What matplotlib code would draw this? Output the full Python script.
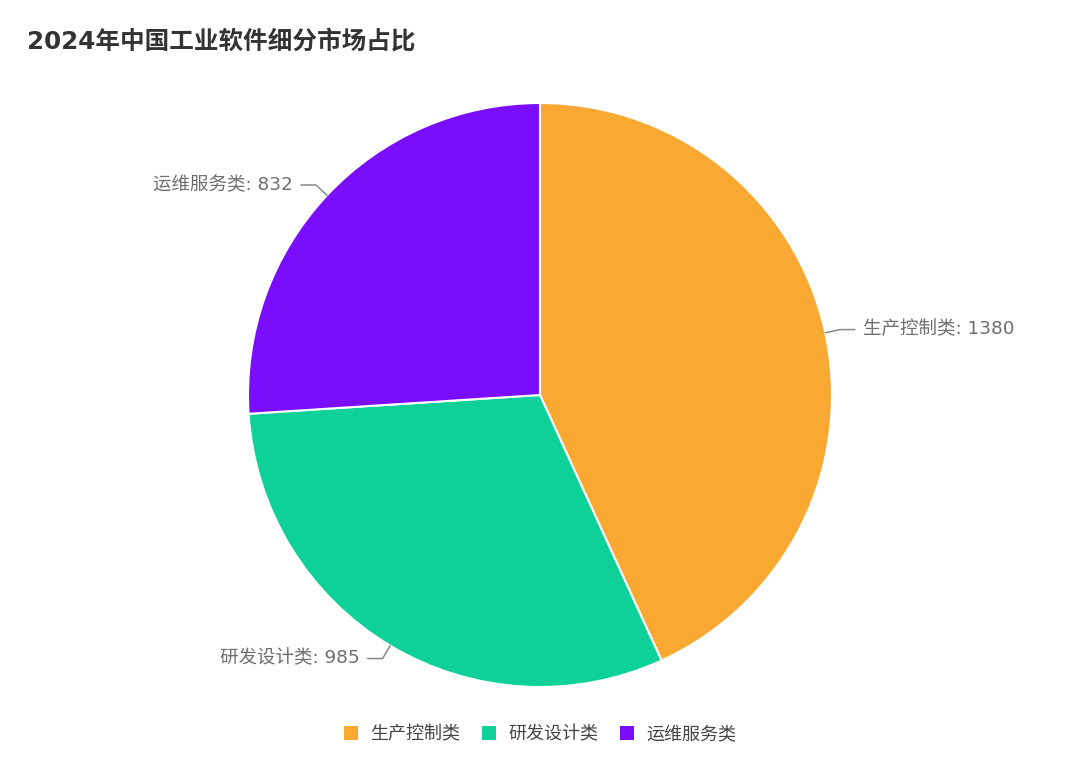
import numpy as np
import matplotlib.pyplot as plt
from matplotlib.patches import Rectangle

plt.rcParams['font.family'] = ['DejaVu Sans', 'Noto Sans CJK SC']

title = "2024年中国工业软件细分市场占比"
categories = ["生产控制类", "研发设计类", "运维服务类"]
values = [1380, 985, 832]
colors = ["#F9A832", "#0DD199", "#7A0EFC"]

W, H = 1080, 771
fig = plt.figure(figsize=(W / 100, H / 100), dpi=100)
fig.patch.set_facecolor("white")

# pie centre (540, 395), radius 292 px
cx, cy, r = 540, 395, 292
ax = fig.add_axes([(cx - r) / W, (H - cy - r) / H, 2 * r / W, 2 * r / H])

wedges, _ = ax.pie(
    values,
    colors=colors,
    startangle=90,
    counterclock=False,
    radius=1,
    wedgeprops=dict(edgecolor="white", linewidth=1.5, joinstyle="round"),
)
ax.set_xlim(-1, 1)
ax.set_ylim(-1, 1)
ax.set_aspect("equal")
ax.axis("off")

# labels with leader lines
seg1 = 15 / r
seg2 = 15 / r
gap = 8 / r
for w, name, v in zip(wedges, categories, values):
    ang = np.deg2rad((w.theta1 + w.theta2) / 2)
    x0, y0 = np.cos(ang), np.sin(ang)
    x1, y1 = (1 + seg1) * x0, (1 + seg1) * y0
    side = 1 if x0 >= 0 else -1
    x2 = x1 + side * seg2
    ax.plot([x0, x1, x2], [y0, y1, y1], color="#888888", lw=1.1,
            clip_on=False, solid_capstyle="round")
    ax.text(x2 + side * gap, y1, f"{name}: {v}", fontsize=13.3,
            color="#6E6E6E", ha="left" if side > 0 else "right",
            va="center", clip_on=False)

fig.text(27 / W, 1 - 42 / H, title, fontsize=17.7, fontweight="bold",
         color="#333333", ha="left", va="center")

handles = [Rectangle((0, 0), 1, 1, facecolor=c, edgecolor="none") for c in colors]
fig.legend(handles, categories, loc="center", bbox_to_anchor=(0.5, 1 - 734 / H),
           ncol=3, frameon=False, fontsize=13, handlelength=0.78,
           handleheight=0.78, handletextpad=0.67, columnspacing=1.2,
           labelcolor="#444444")

fig.savefig("out.png", dpi=100, facecolor="white")
